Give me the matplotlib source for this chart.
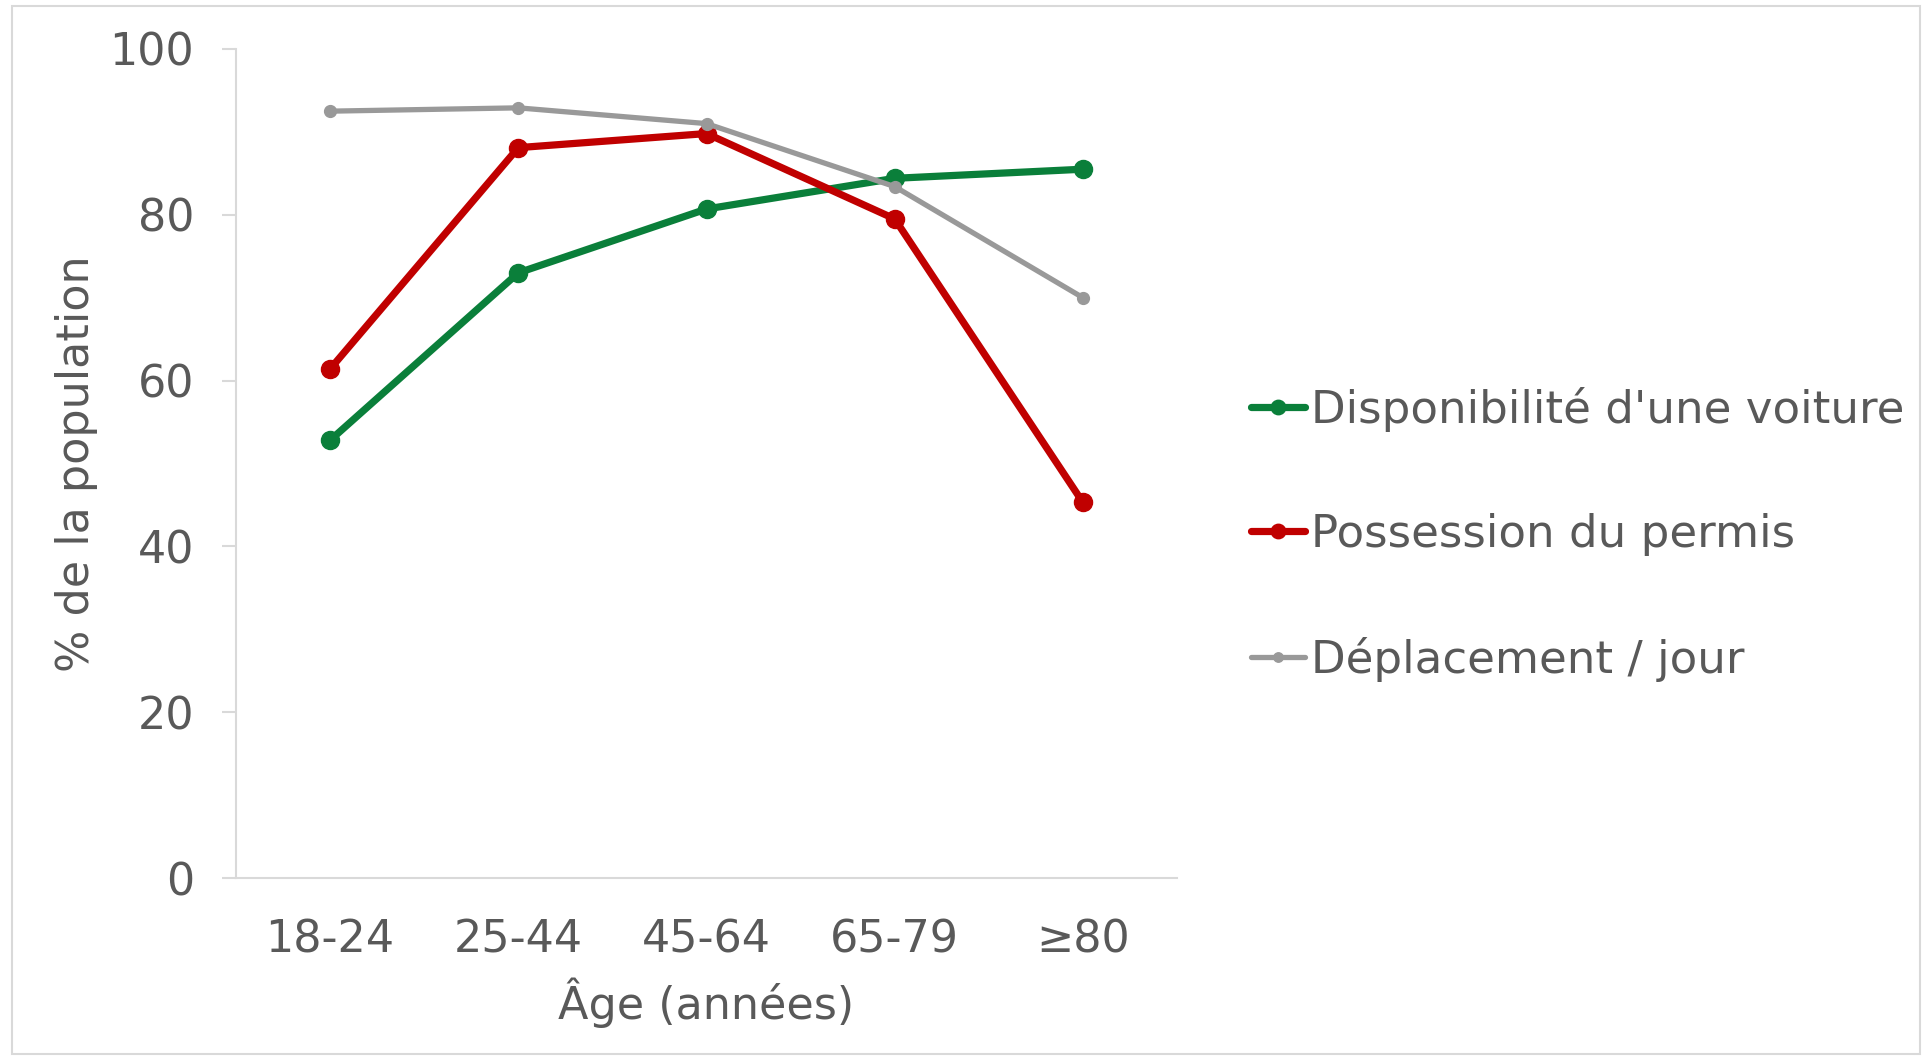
import matplotlib.pyplot as plt
from matplotlib.patches import Rectangle

# age groups and series (% of population)
ages = ['18-24', '25-44', '45-64', '65-79', '≥80']
voiture = [52.8, 73.0, 80.7, 84.4, 85.5]
permis = [61.4, 88.1, 89.8, 79.5, 45.3]
deplacement = [92.5, 92.9, 91.0, 83.4, 70.0]

txt = '#595959'
fs = 32
plt.rcParams['font.family'] = ['DejaVu Sans']

fig = plt.figure(figsize=(19.28, 10.58), dpi=100)
ax = fig.add_axes([0.1224, 0.1701, 0.4881, 0.7836])

x = range(len(ages))
ax.plot(x, voiture, color='#0A7F3A', lw=5.2, marker='o', ms=13,
        label="Disponibilité d'une voiture", solid_capstyle='round')
ax.plot(x, permis, color='#C00000', lw=5.2, marker='o', ms=13,
        label='Possession du permis', solid_capstyle='round')
ax.plot(x, deplacement, color='#999999', lw=3.8, marker='o', ms=8.5,
        label='Déplacement / jour', solid_capstyle='round')

ax.set_xlim(-0.5, 4.5)
ax.set_ylim(0, 100)
ax.set_yticks([0, 20, 40, 60, 80, 100])
ax.set_xticks(list(x))
ax.set_xticklabels(ages)

for s in ['top', 'right']:
    ax.spines[s].set_visible(False)
for s in ['left', 'bottom']:
    ax.spines[s].set_color('#D9D9D9')
    ax.spines[s].set_linewidth(1.5)
ax.tick_params(axis='y', colors='#D9D9D9', labelcolor=txt, labelsize=fs,
               length=10, width=1.5, pad=20)
ax.tick_params(axis='x', length=0, labelcolor=txt, labelsize=fs, pad=29)

ax.set_xlabel('Âge (années)', fontsize=fs, color=txt, labelpad=12)
ax.set_ylabel('% de la population', fontsize=fs, color=txt, labelpad=8)

leg = ax.legend(loc='center left', bbox_to_anchor=(0.649, 0.495),
                bbox_transform=fig.transFigure, frameon=False, fontsize=32.5,
                handlelength=1.2, handletextpad=0.12, labelspacing=1.8,
                markerscale=0.8, borderpad=0, borderaxespad=0)
for t in leg.get_texts():
    t.set_color(txt)

# light border around the whole chart area
fig.patches.append(Rectangle((0.006, 0.004), 0.99, 0.99, transform=fig.transFigure,
                             fill=False, edgecolor='#D9D9D9', lw=1.5))

fig.savefig('out.png', dpi=100)
